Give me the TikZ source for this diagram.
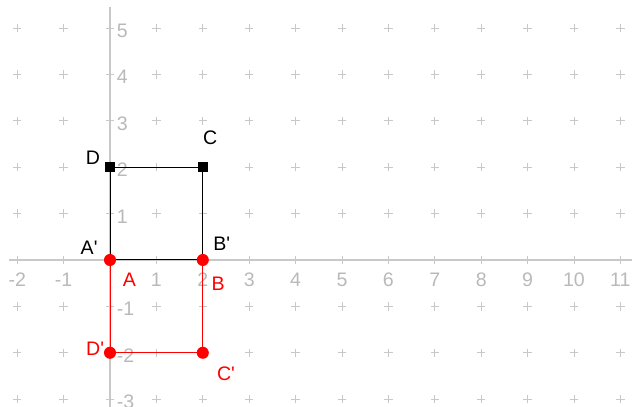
\documentclass[tikz,border=0pt]{standalone}
\usepackage{fontspec}
\setmainfont{Liberation Sans}
\usetikzlibrary{positioning}
\definecolor{racsszin}{RGB}{200,200,200}
\definecolor{szamszin}{RGB}{185,185,185}
\tikzset{
  racs/.style={racsszin,line width=0.5pt},
  tengely/.style={racsszin,line width=0.8pt},
  szam/.style={text=szamszin,font=\fontsize{12}{14}\selectfont,inner sep=0pt},
  pont/.style={circle,fill=red,inner sep=0pt,minimum size=2.6mm},
  negy/.style={rectangle,fill=black,inner sep=0pt,minimum size=2.2mm},
  cimke/.style={font=\fontsize{12}{14}\selectfont,inner sep=0pt},
  oldal/.style={line width=0.6pt},
}

\begin{document}
\begin{tikzpicture}
  \useasboundingbox (-2.371,-3.168) rectangle (11.250,5.603);
  % racs
  \foreach \x in {-2,...,11}
    \foreach \y in {-3,...,5}
      \draw[racs] (\x-0.09,\y) -- (\x+0.09,\y) (\x,\y-0.09) -- (\x,\y+0.09);
  \draw[tengely] (-2.18,0) -- (11.25,0);
  \draw[tengely] (0,-3.168) -- (0,5.45);
  \foreach \x in {-2,-1,1,2,...,11}
    \node[szam] (x\x) at (\x,-0.43) {\x};
  \foreach \y in {-3,-2,-1,1,2,...,5}
    \node[szam,anchor=west] (y\y) at (0.14,\y-0.06) {\y};

  % csucsok
  \coordinate (A) at (0,0);
  \coordinate (B) at (2,0);
  \coordinate (C) at (2,2);
  \coordinate (D) at (0,2);
  \coordinate (Cv) at (2,-2);
  \coordinate (Dv) at (0,-2);
  \draw[oldal,red] (A) -- (Dv) -- (Cv) -- (B);
  \draw[oldal] (A) -- (B) -- (C) -- (D) -- cycle;
  \node[negy] (Dp) at (D) {};
  \node[negy] (Cp) at (C) {};
  \node[pont] (Ap) at (A) {};
  \node[pont] (Bp) at (B) {};
  \node[pont] (Cvp) at (Cv) {};
  \node[pont] (Dvp) at (Dv) {};

  % cimkek
  \node[cimke] (lD) at (-0.37,2.21) {D};
  \node[cimke] (lC) at (2.16,2.63) {C};
  \node[cimke] (lAv) at (-0.45,0.26) {A\textquotesingle};
  \node[cimke] (lBv) at (2.41,0.36) {B\textquotesingle};
  \node[cimke,red] (lA) at (0.42,-0.43) {A};
  \node[cimke,red] (lB) at (2.33,-0.52) {B};
  \node[cimke,red] (lDv) at (-0.32,-1.92) {D\textquotesingle};
  \node[cimke,red] (lCv) at (2.50,-2.46) {C\textquotesingle};
\end{tikzpicture}
\end{document}
